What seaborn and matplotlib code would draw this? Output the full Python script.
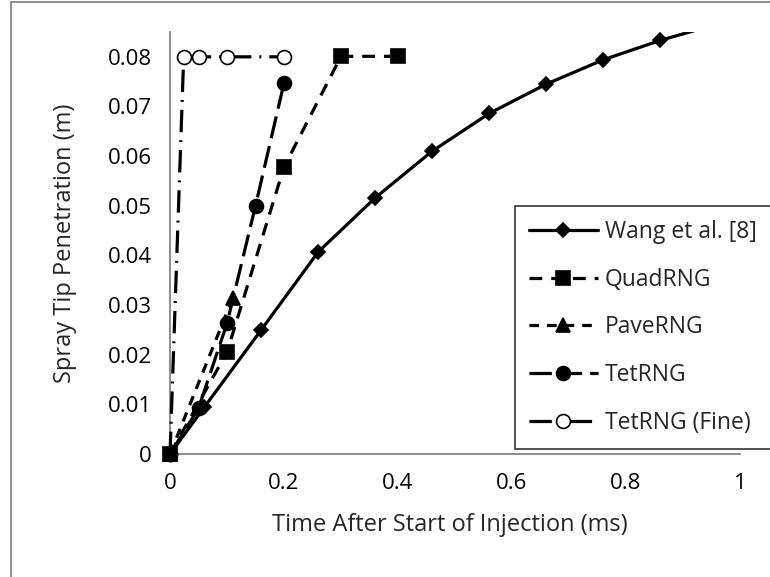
import matplotlib
matplotlib.use("Agg")
import matplotlib.pyplot as plt
import seaborn as sns
import pandas as pd
from matplotlib.lines import Line2D

# ---- data ----
wang_x = [0, 0.06, 0.16, 0.26, 0.36, 0.46, 0.56, 0.66, 0.76, 0.86, 0.96]
wang_y = [0, 0.0094, 0.0250, 0.0407, 0.0516, 0.0610, 0.0686, 0.0745, 0.0794, 0.0833, 0.0866]
quad_x = [0, 0.1, 0.2, 0.3, 0.4]
quad_y = [0, 0.0205, 0.0578, 0.0801, 0.0801]
pave_x = [0, 0.11]
pave_y = [0, 0.0314]
tet_x = [0, 0.05, 0.1, 0.15, 0.2]
tet_y = [0, 0.0092, 0.0263, 0.0500, 0.0747]
fine_x = [0, 0.024, 0.05, 0.1, 0.2]
fine_y = [0, 0.0800, 0.0800, 0.0800, 0.0800]

labels = ["Wang et al. [8]", "QuadRNG", "PaveRNG", "TetRNG", "TetRNG (Fine)"]
x_ticks = [0, 0.2, 0.4, 0.6, 0.8, 1]
x_tick_labels = ["0", "0.2", "0.4", "0.6", "0.8", "1"]
y_ticks = [0, 0.01, 0.02, 0.03, 0.04, 0.05, 0.06, 0.07, 0.08]
y_tick_labels = ["0", "0.01", "0.02", "0.03", "0.04", "0.05", "0.06", "0.07", "0.08"]

sns.set_style("white")
plt.rcParams["font.family"] = ["Open Sans", "DejaVu Sans"]

fig = plt.figure(figsize=(7.7, 5.77), dpi=100)
ax = fig.add_axes([170/770, 1-454/577, 570/770, 422/577])

lw = 2.3
series = [
    (wang_x, wang_y, labels[0], True, 2.5, dict(marker="D", markersize=7.5, linestyle="-", markerfacecolor="black")),
    (quad_x, quad_y, labels[1], False, 6, dict(marker="s", markersize=10, linestyle=(0, (4, 2.8)), markerfacecolor="black")),
    (pave_x, pave_y, labels[2], False, 4, dict(marker="^", markersize=10, linestyle=(0, (3, 2.5)), markerfacecolor="black")),
    (tet_x, tet_y, labels[3], False, 3.5, dict(marker="o", markersize=10, linestyle=(0, (7, 2.5)), markerfacecolor="black")),
    (fine_x, fine_y, labels[4], False, 3, dict(marker="o", markersize=10, linestyle=(0, (7, 2.5, 0.6, 2.5)), markerfacecolor="white")),
]
for xs, ys, lab, clip, z, kw in series:
    df = pd.DataFrame({"x": xs, "y": ys})
    sns.lineplot(data=df, x="x", y="y", ax=ax, color="black", linewidth=lw,
                 markeredgecolor="black", markeredgewidth=1.2, label=lab,
                 sort=False, estimator=None, clip_on=clip, zorder=z, **kw)

ax.set_xlim(0, 1)
ax.set_ylim(0, 0.085)
ax.set_xticks(x_ticks)
ax.set_xticklabels(x_tick_labels)
ax.set_yticks(y_ticks)
ax.set_yticklabels(y_tick_labels)
for s in ["top", "right"]:
    ax.spines[s].set_visible(False)
for s in ["left", "bottom"]:
    ax.spines[s].set_color("#868686")
    ax.spines[s].set_linewidth(1.3)
ax.tick_params(axis="both", which="major", direction="out", length=6, width=1.3,
               color="#868686", labelsize=16, labelcolor="black")
ax.tick_params(axis="y", pad=7)
ax.tick_params(axis="x", pad=8)
ax.set_xlabel("Time After Start of Injection (ms)", fontsize=17)
ax.set_ylabel("Spray Tip Penetration (m)", fontsize=17)
ax.xaxis.set_label_coords(0.491, -0.14)
ax.yaxis.set_label_coords(-0.163, 0.5)

leg = ax.legend(loc="upper left", bbox_to_anchor=(0.605, 0.5877), fontsize=16.5,
                frameon=True, fancybox=False, edgecolor="black", handlelength=3.0,
                labelspacing=1.03, borderpad=0.62, handletextpad=0.3, borderaxespad=0)
leg.get_frame().set_linewidth(1.2)
leg.set_zorder(10)

# chart area border (left and top visible)
fig.add_artist(Line2D([11/770, 11/770], [0, 1-2/577], transform=fig.transFigure, color="#868686", lw=1.3))
fig.add_artist(Line2D([11/770, 1], [1-2/577, 1-2/577], transform=fig.transFigure, color="#868686", lw=1.3))

fig.savefig("out.png", dpi=100)
